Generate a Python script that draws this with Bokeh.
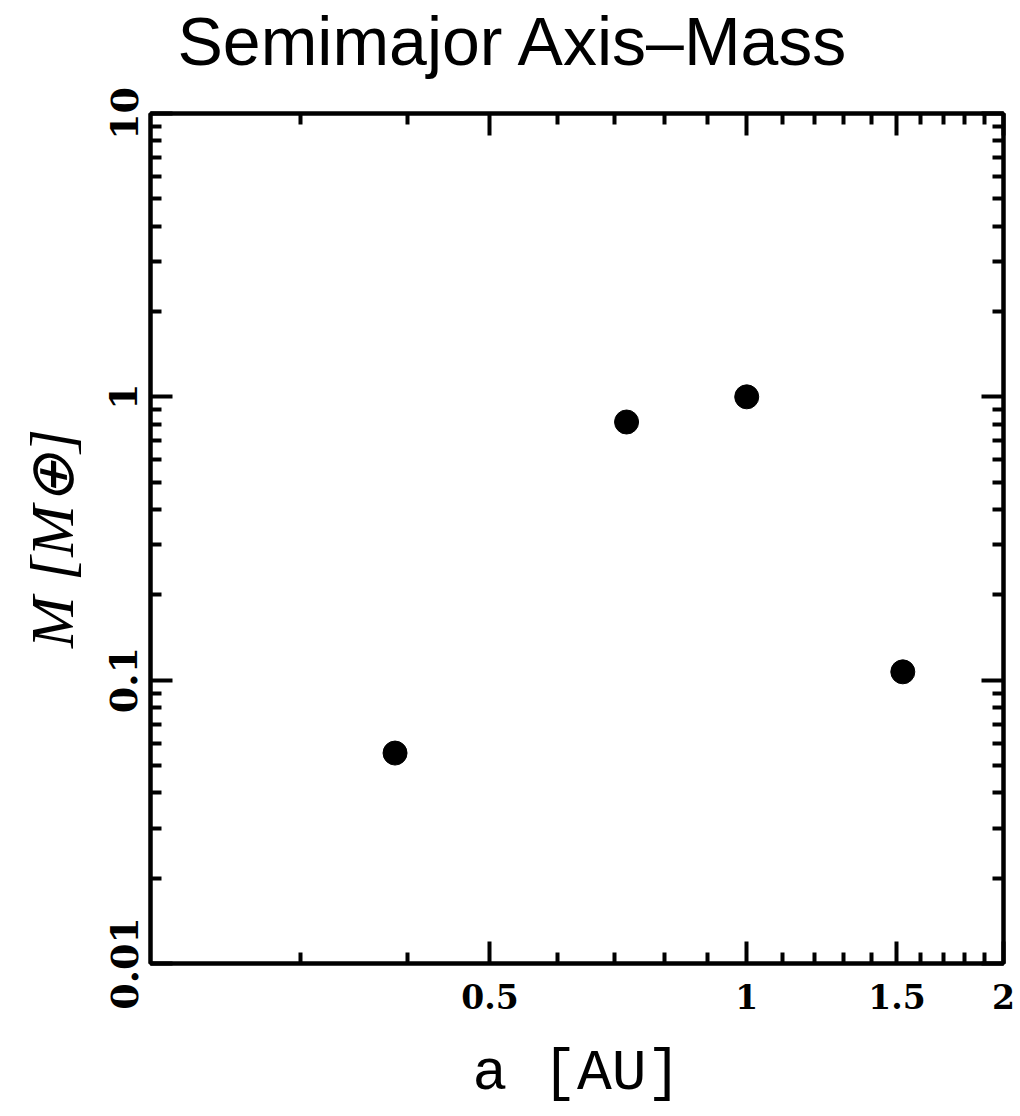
from bokeh.plotting import figure
from bokeh.models import LogAxis, FixedTicker
from bokeh.embed import file_html
from bokeh.resources import INLINE

# ---- data ----
planets = ["Mercury", "Venus", "Earth", "Mars"]
semimajor_au = [0.387, 0.723, 1.000, 1.524]
mass_earth = [0.0553, 0.815, 1.000, 0.107]

x_ticks = [0.5, 1, 1.5, 2]
x_tick_labels = ["0.5", "1", "1.5", "2"]
x_minor = [0.3, 0.4, 0.6, 0.7, 0.8, 0.9, 1.1, 1.2, 1.3, 1.4, 1.6, 1.7, 1.8, 1.9]
y_ticks = [0.01, 0.1, 1, 10]
y_tick_labels = ["0.01", "0.1", "1", "10"]
y_minor = [m * d for d in [0.01, 0.1, 1] for m in range(2, 10)]

title_text = "Semimajor Axis\u2013Mass"
x_label = "a [AU]"
y_label = "M [M\u2295]"

W, H = 1020, 1116
FL, FR, FT, FB = 150, 1003, 113, 963  # frame edges (canvas px)

p = figure(width=W, height=H, x_axis_type="log", y_axis_type="log",
           x_range=(0.2, 2.0), y_range=(0.01, 10.0),
           output_backend="svg", toolbar_location=None,
           min_border_left=FL, min_border_right=W - FR,
           min_border_top=FT, min_border_bottom=H - FB)
p.grid.visible = False
p.background_fill_color = "white"
p.border_fill_color = "white"
p.outline_line_color = "black"
p.outline_line_width = 4

tick_font = "DejaVu Serif"


def style_axis(ax, size):
    ax.axis_line_width = 4
    ax.axis_line_color = "black"
    ax.major_tick_in = 22
    ax.major_tick_out = 0
    ax.minor_tick_in = 11
    ax.minor_tick_out = 0
    ax.major_tick_line_width = 4
    ax.minor_tick_line_width = 4
    ax.major_tick_line_color = "black"
    ax.minor_tick_line_color = "black"
    ax.major_label_text_font = tick_font
    ax.major_label_text_font_style = "bold"
    ax.major_label_text_color = "black"
    ax.major_label_text_font_size = size


xb = p.xaxis[0]
xb.ticker = FixedTicker(ticks=x_ticks, minor_ticks=x_minor)
xb.major_label_overrides = dict(zip(x_ticks, x_tick_labels))
style_axis(xb, "33px")
xb.major_label_standoff = 20
xb.axis_label = x_label
xb.axis_label_text_font = "Liberation Mono"
xb.axis_label_text_font_style = "normal"
xb.axis_label_text_font_size = "58px"
xb.axis_label_text_color = "black"
xb.axis_label_standoff = 29

yl = p.yaxis[0]
yl.ticker = FixedTicker(ticks=y_ticks, minor_ticks=y_minor)
yl.major_label_overrides = dict(zip(y_ticks, y_tick_labels))
style_axis(yl, "38px")
yl.major_label_orientation = "parallel"
yl.major_label_standoff = 13
yl.axis_label = y_label
yl.axis_label_text_font = "Liberation Serif"
yl.axis_label_text_font_style = "italic"
yl.axis_label_text_font_size = "62px"
yl.axis_label_text_color = "black"
yl.axis_label_standoff = 22

# mirror axes: ticks only (the top one also reserves room so the title sits higher)
xt = LogAxis(ticker=FixedTicker(ticks=x_ticks, minor_ticks=x_minor), major_label_standoff=0,
             major_label_overrides={t: "" for t in x_ticks})
style_axis(xt, "1px")
xt.major_label_text_color = None
xt.axis_label = "\u00a0"
xt.axis_label_text_font_size = "24px"
xt.axis_label_text_color = None
xt.axis_label_standoff = 5
p.add_layout(xt, "above")

yr = LogAxis(ticker=FixedTicker(ticks=y_ticks, minor_ticks=y_minor), major_label_standoff=0,
             major_label_overrides={t: "" for t in y_ticks})
style_axis(yr, "1px")
yr.major_label_text_color = None
p.add_layout(yr, "right")

p.title.text = title_text
p.title.text_font = "Liberation Sans"
p.title.text_font_style = "normal"
p.title.text_font_size = "68px"
p.title.text_color = "black"
p.title.align = "left"
p.title.offset = 27
p.title.standoff = 0

p.scatter(semimajor_au, mass_earth, size=24, color="black")

open("out.html", "w").write(file_html(p, INLINE))
